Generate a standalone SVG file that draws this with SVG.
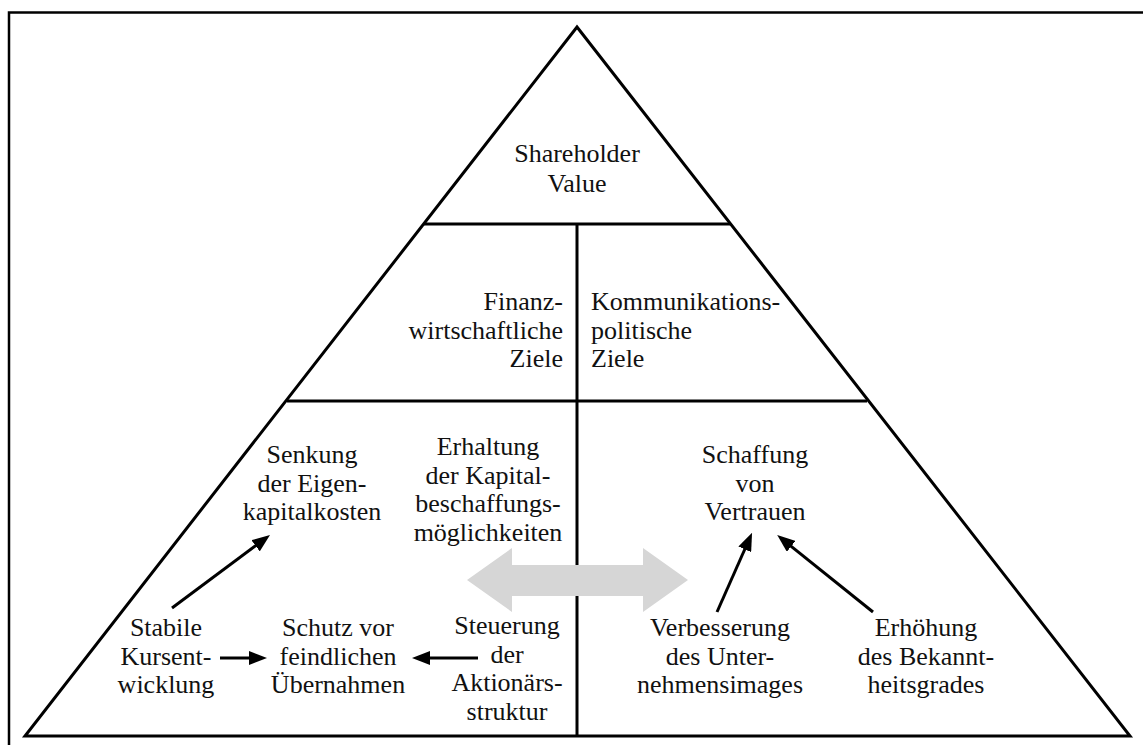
<svg xmlns="http://www.w3.org/2000/svg" width="1143" height="745" viewBox="0 0 1143 745">
  <style>
    .frame { fill: none; stroke: #000; stroke-width: 2.5; }
    .edge { fill: none; stroke: #000; stroke-width: 3; stroke-linejoin: miter; }
    .lbl { font-family: "Liberation Serif", "Times New Roman", serif; font-size: 26px; fill: #111; }
    .c { text-anchor: middle; }
    .r { text-anchor: end; }
    .l { text-anchor: start; }
    .link { fill: none; stroke: #000; stroke-width: 3; }
  </style>
  <defs>
    <marker id="head" markerUnits="userSpaceOnUse" markerWidth="18" markerHeight="14" refX="8" refY="7" orient="auto">
      <path d="M0,0 L18,7 L0,14 z" fill="#000"/>
    </marker>
  </defs>

  <rect width="1143" height="745" fill="#fff"/>

  <!-- outer frame (top and left edges) -->
  <path class="frame" d="M9,745 L9,12.5 L1143,12.5"/>

  <!-- pyramid outline and dividers -->
  <g id="pyramid">
    <polygon class="edge" points="577,27 1130,736 25,736"/>
    <line class="edge" x1="424" y1="224" x2="730" y2="224"/>
    <line class="edge" x1="287" y1="401" x2="867" y2="401"/>
    <line class="edge" x1="577" y1="224" x2="577" y2="736"/>
  </g>

  <!-- level 1 -->
  <g id="shareholder-value">
    <text class="lbl c" x="577" y="162">Shareholder</text>
    <text class="lbl c" x="577" y="192">Value</text>
  </g>

  <!-- level 2 -->
  <g id="finanzwirtschaftliche-ziele">
    <text class="lbl r" x="563" y="310">Finanz-</text>
    <text class="lbl r" x="563" y="338.5">wirtschaftliche</text>
    <text class="lbl r" x="563" y="367">Ziele</text>
  </g>
  <g id="kommunikationspolitische-ziele">
    <text class="lbl l" x="591" y="310">Kommunikations-</text>
    <text class="lbl l" x="591" y="338.5">politische</text>
    <text class="lbl l" x="591" y="367">Ziele</text>
  </g>

  <!-- level 3 -->
  <g id="senkung">
    <text class="lbl c" x="312" y="463">Senkung</text>
    <text class="lbl c" x="312" y="491.5">der Eigen-</text>
    <text class="lbl c" x="312" y="520">kapitalkosten</text>
  </g>
  <g id="erhaltung">
    <text class="lbl c" x="488" y="455">Erhaltung</text>
    <text class="lbl c" x="488" y="483.5">der Kapital-</text>
    <text class="lbl c" x="488" y="512">beschaffungs-</text>
    <text class="lbl c" x="488" y="540.5">möglichkeiten</text>
  </g>
  <g id="schaffung">
    <text class="lbl c" x="755" y="463">Schaffung</text>
    <text class="lbl c" x="755" y="491.5">von</text>
    <text class="lbl c" x="755" y="520">Vertrauen</text>
  </g>

  <!-- level 4 -->
  <g id="stabile">
    <text class="lbl c" x="166" y="636">Stabile</text>
    <text class="lbl c" x="166" y="664.5">Kursent-</text>
    <text class="lbl c" x="166" y="693">wicklung</text>
  </g>
  <g id="schutz">
    <text class="lbl c" x="338" y="636">Schutz vor</text>
    <text class="lbl c" x="338" y="664.5">feindlichen</text>
    <text class="lbl c" x="338" y="693">Übernahmen</text>
  </g>
  <g id="steuerung">
    <text class="lbl c" x="507" y="634">Steuerung</text>
    <text class="lbl c" x="507" y="662.5">der</text>
    <text class="lbl c" x="507" y="691">Aktionärs-</text>
    <text class="lbl c" x="507" y="719.5">struktur</text>
  </g>
  <g id="verbesserung">
    <text class="lbl c" x="720" y="636">Verbesserung</text>
    <text class="lbl c" x="720" y="664.5">des Unter-</text>
    <text class="lbl c" x="720" y="693">nehmensimages</text>
  </g>
  <g id="erhoehung">
    <text class="lbl c" x="926" y="636">Erhöhung</text>
    <text class="lbl c" x="926" y="664.5">des Bekannt-</text>
    <text class="lbl c" x="926" y="693">heitsgrades</text>
  </g>

  <!-- connectors -->
  <g id="connectors">
    <polygon fill="#d6d6d6" points="467,580 512,548 512,565 643,565 643,548 688,580 643,612 643,596 512,596 512,612"/>
    <line class="link" x1="172" y1="608" x2="262" y2="541" marker-end="url(#head)"/>
    <line class="link" x1="220" y1="658" x2="257" y2="658" marker-end="url(#head)"/>
    <line class="link" x1="478" y1="658" x2="422" y2="658" marker-end="url(#head)"/>
    <line class="link" x1="717" y1="612" x2="748" y2="542" marker-end="url(#head)"/>
    <line class="link" x1="873" y1="612" x2="785" y2="541.3" marker-end="url(#head)"/>
  </g>
</svg>
